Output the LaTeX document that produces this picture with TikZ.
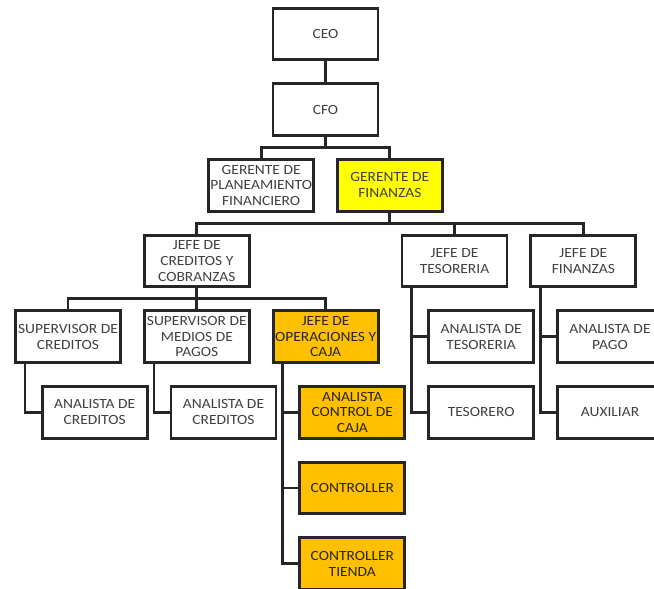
\documentclass[tikz,border=0pt]{standalone}
\usepackage{fontspec}
\setmainfont{Carlito}[FakeStretch=1.1]
\usetikzlibrary{positioning}
\definecolor{amarillo}{HTML}{FFFF00}
\definecolor{naranja}{HTML}{FFC000}

\begin{document}
\begin{tikzpicture}[node distance=2.27cm and 3.865cm, on grid,
    cargo/.style={draw=black!85, line width=2.4pt, fill=white, minimum width=3.15cm, minimum height=1.55cm,
        inner xsep=0pt, inner ysep=2pt, align=center, text=black!75, font=\fontsize{12}{13.5}\selectfont},
    gerencia/.style={cargo, fill=amarillo},
    caja/.style={cargo, fill=naranja, text=black!85},
    linea/.style={draw=black!85, line width=2.4pt}]
    \useasboundingbox (-9.765,1.02) rectangle (9.855,-16.65);

    % Cargos
    \node[cargo] (ceo) at (0,0) {CEO};
    \node[cargo] (cfo) [below=of ceo] {CFO};
    \node[cargo] (gplan) [below left=2.27cm and 1.93cm of cfo] {GERENTE DE\\PLANEAMIENTO\\FINANCIERO};
    \node[gerencia] (gfin) [below right=2.27cm and 1.93cm of cfo] {GERENTE DE\\FINANZAS};

    % Jefaturas
    \node[cargo] (jcred) [below left=2.27cm and 1.93cm of gplan] {JEFE DE\\CREDITOS Y\\COBRANZAS};
    \node[cargo] (jtes) [right=7.73cm of jcred] {JEFE DE\\TESORERIA};
    \node[cargo] (jfin) [right=of jtes] {JEFE DE\\FINANZAS};

    % Creditos y cobranzas
    \node[cargo] (supcred) [below left=of jcred] {SUPERVISOR DE\\CREDITOS};
    \node[cargo] (supmed) [below=of jcred] {SUPERVISOR DE\\MEDIOS DE\\PAGOS};
    \node[caja] (jop) [right=of supmed] {JEFE DE\\OPERACIONES Y\\CAJA};
    \node[cargo] (ancred) [below right=2.27cm and 0.8cm of supcred] {ANALISTA DE\\CREDITOS};
    \node[cargo] (anmed) [below right=2.27cm and 0.8cm of supmed] {ANALISTA DE\\CREDITOS};

    % Operaciones y caja
    \node[caja] (ancaja) [below right=2.27cm and 0.8cm of jop] {ANALISTA\\CONTROL DE\\CAJA};
    \node[caja] (contr) [below=of ancaja] {CONTROLLER};
    \node[caja] (ctienda) [below=of contr] {CONTROLLER\\TIENDA};

    % Tesoreria y finanzas
    \node[cargo] (antes) [below right=2.27cm and 0.8cm of jtes] {ANALISTA DE\\TESORERIA};
    \node[cargo] (tesorero) [below=of antes] {TESORERO};
    \node[cargo] (anpago) [below right=2.27cm and 0.8cm of jfin] {ANALISTA DE\\PAGO};
    \node[cargo] (aux) [below=of anpago] {AUXILIAR};

    % Lineas de mando
    \path[linea] (ceo) -- (cfo);
    \path[linea] (cfo.south) -- ++(0,-0.33) -| (gplan.north)
                 (cfo.south) -- ++(0,-0.33) -| (gfin.north);
    \path[linea] (gfin.south) -- ++(0,-0.32) -| (jcred.north)
                 (gfin.south) -- ++(0,-0.32) -| (jtes.north)
                 (gfin.south) -- ++(0,-0.32) -| (jfin.north);
    \path[linea] (jcred.south) -- ++(0,-0.3) -| (supcred.north)
                 (jcred.south) -- (supmed.north)
                 (jcred.south) -- ++(0,-0.3) -| (jop.north);

    % Dependencias en columna
    \path[linea] ([xshift=0.33cm]supcred.south west) |- (ancred.west);
    \path[linea] ([xshift=0.33cm]supmed.south west) |- (anmed.west);
    \path[linea] ([xshift=0.33cm]jop.south west) |- (ctienda.west)
                 ([xshift=0.33cm]jop.south west) |- (contr.west)
                 ([xshift=0.33cm]jop.south west) |- (ancaja.west);
    \path[linea] ([xshift=0.33cm]jtes.south west) |- (tesorero.west)
                 ([xshift=0.33cm]jtes.south west) |- (antes.west);
    \path[linea] ([xshift=0.33cm]jfin.south west) |- (aux.west)
                 ([xshift=0.33cm]jfin.south west) |- (anpago.west);
\end{tikzpicture}
\end{document}
